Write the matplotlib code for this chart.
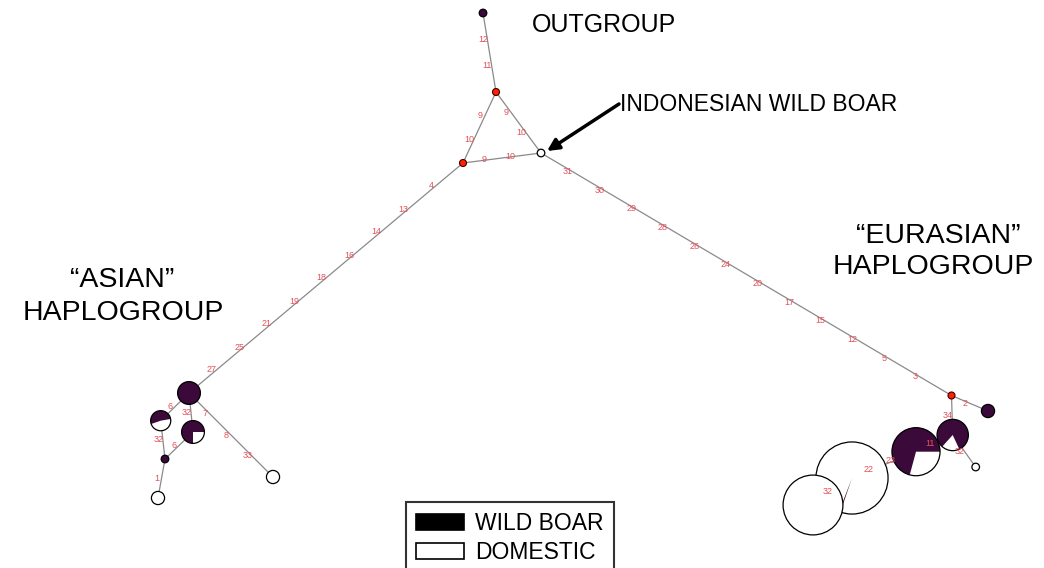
import matplotlib
matplotlib.use("Agg")
import matplotlib.pyplot as plt
from matplotlib.patches import Circle, Wedge, Patch
import numpy as np

plt.rcParams['font.family'] = ['Liberation Sans', 'DejaVu Sans']

# haplotype network: layout position (pixels), haplotype count, share of wild boar
node_names = ["outgroup", "mvA", "mvB", "indonesia",
              "asia_main", "asia_pie1", "asia_pie2", "asia_small", "asia_bottom", "asia_right",
              "mvC", "eur_wild", "eur_pie", "eur_big", "eur_tiny", "eur_dom22", "eur_dom32"]
node_x = [483, 496, 463, 541,
          189, 160.7, 193, 165, 158, 273,
          951.5, 988, 952.7, 916, 975.7, 852, 813]
node_y = [13, 92, 163, 153,
          393, 420.7, 432, 459, 498, 477,
          395.5, 411, 435, 451.7, 467, 478, 505]
node_count = [1, 0, 0, 1,
              9, 7, 9, 1, 3, 3,
              0, 3, 17, 40, 1, 90, 62]
wild_share = [1, 0, 0, 0,
              1, 0.525, 0.75, 1, 0, 0,
              0, 1, 0.814, 0.708, 0, 0.006, 0]

# edges with the mutation positions on them
edge_from = ["outgroup", "mvA", "mvA", "mvB", "mvB", "indonesia",
             "asia_main", "asia_main", "asia_main", "asia_pie1", "asia_pie2", "asia_small",
             "mvC", "mvC", "eur_pie", "eur_pie", "eur_big", "eur_dom22"]
edge_to = ["mvA", "mvB", "indonesia", "indonesia", "asia_main", "mvC",
           "asia_pie1", "asia_pie2", "asia_right", "asia_small", "asia_small", "asia_bottom",
           "eur_wild", "eur_pie", "eur_tiny", "eur_big", "eur_dom22", "eur_dom32"]
edge_muts = [[12, 11], [9, 10], [9, 10], [9, 10],
             [4, 13, 14, 16, 18, 19, 21, 25, 27],
             [31, 30, 29, 28, 26, 24, 20, 17, 15, 12, 5, 3],
             [6], [32], [7, 8, 33], [32], [6], [1],
             [2], [34], [32], [11], [23, 22], [32]]

legend_labels = ["WILD BOAR", "DOMESTIC"]

# style
purple = '#3c0a3a'
red_node = '#ff2200'
edge_col = '#8a8a8a'
mut_col = '#e4505a'
wedge_start = [0, 0, 0, 0, 0, 10, 0, 0, 0, 0, 0, 0, -65, 0, 0, -111, 0]  # screen degrees

fig = plt.figure(figsize=(10.44, 5.68), dpi=100)
ax = fig.add_axes([0, 0, 1, 1])
ax.set_xlim(0, 1044)
ax.set_ylim(568, 0)
ax.set_aspect('equal')
ax.axis('off')

idx = {n: i for i, n in enumerate(node_names)}

for a, b, muts in zip(edge_from, edge_to, edge_muts):
    i, j = idx[a], idx[b]
    ax.plot([node_x[i], node_x[j]], [node_y[i], node_y[j]], color=edge_col, lw=0.9, zorder=1)
    n = len(muts)
    for k, m in enumerate(muts):
        t = (k + 1) / (n + 1)
        px = node_x[i] + t * (node_x[j] - node_x[i])
        py = node_y[i] + t * (node_y[j] - node_y[i])
        ax.text(px - 4.5, py, str(m), color=mut_col, fontsize=6.5,
                ha='center', va='center', zorder=6)

for i, name in enumerate(node_names):
    x, y = node_x[i], node_y[i]
    if node_count[i] == 0:
        ax.add_patch(Circle((x, y), 3.5, facecolor=red_node, edgecolor='#400000', lw=0.8, zorder=3))
        continue
    r = 3.8 * np.sqrt(node_count[i])
    share = wild_share[i]
    if share >= 1:
        ax.add_patch(Circle((x, y), r, facecolor=purple, edgecolor='black', lw=0.9, zorder=3))
        continue
    ax.add_patch(Circle((x, y), r, facecolor='white', edgecolor='none', zorder=3))
    if share > 0:
        s = wedge_start[i]
        e = s + 360 * share
        # y axis is inverted: screen angle a -> data angle -a
        ax.add_patch(Wedge((x, y), r, -e, -s, facecolor=purple, edgecolor='none', zorder=3))
    ax.add_patch(Circle((x, y), r, facecolor='none', edgecolor='black', lw=0.9, zorder=3))

ax.text(604, 32.5, "OUTGROUP", fontsize=18, ha='center', va='baseline')
ax.text(620, 111, "INDONESIAN WILD BOAR", fontsize=16.5, ha='left', va='baseline')
ax.annotate('', xy=(547, 151), xytext=(619, 104),
            arrowprops=dict(arrowstyle='-|>,head_length=0.7,head_width=0.35',
                            lw=2.5, color='black', shrinkA=0, shrinkB=0))
ax.text(938, 243, "\u201cEURASIAN\u201d", fontsize=20.5, ha='center', va='baseline')
ax.text(933, 274, "HAPLOGROUP", fontsize=20.5, ha='center', va='baseline')
ax.text(122.5, 287, "\u201cASIAN\u201d", fontsize=20.5, ha='center', va='baseline')
ax.text(123, 320, "HAPLOGROUP", fontsize=20.5, ha='center', va='baseline')

handles = [Patch(facecolor='black', edgecolor='black', lw=1.2),
           Patch(facecolor='white', edgecolor='black', lw=1.2)]
leg = ax.legend(handles, legend_labels, loc='upper left',
                bbox_to_anchor=(406 / 1044, 1 - 502 / 568), borderaxespad=0,
                fontsize=16.5, handlelength=2.1, handleheight=0.7, handletextpad=0.45,
                labelspacing=0.25, borderpad=0.45, fancybox=False, frameon=True)
leg.get_frame().set_edgecolor('black')
leg.get_frame().set_linewidth(1.5)

fig.savefig("out.png", dpi=100)
